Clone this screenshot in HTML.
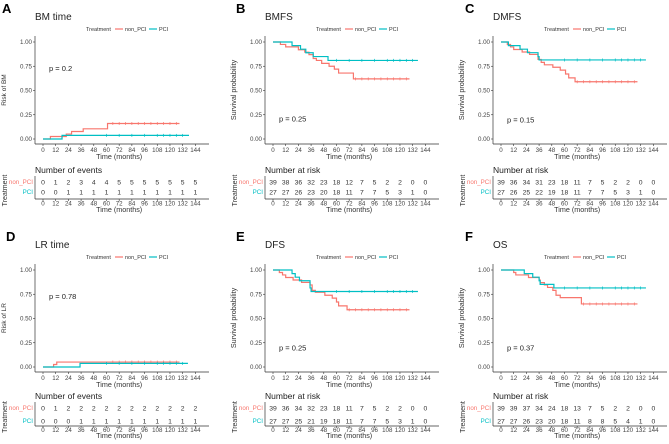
<!DOCTYPE html>
<html><head><meta charset="utf-8"><style>
body{margin:0;background:#fff}
svg{display:block;font-family:"Liberation Sans",sans-serif}
</style></head><body>
<svg id="fig" width="669" height="444" viewBox="0 0 669 444" xmlns="http://www.w3.org/2000/svg"></svg>
<script>
const RED='#F8766D', TEAL='#00BFC4';
const xTicks=[0,12,24,36,48,60,72,84,96,108,120,132,144];
const yTicks=[0,0.25,0.5,0.75,1];
const yTickLabels=['0.00','0.25','0.50','0.75','1.00'];
// panel A
const aNon=[[0,0],[7,0.026],[22,0.051],[27,0.077],[38,0.105],[61,0.16]], aNonEnd=129;
const aPci=[[0,0],[18,0.037]], aPciEnd=138;
const aTabNon=[0,1,2,3,4,4,5,5,5,5,5,5,5], aTabPci=[0,0,1,1,1,1,1,1,1,1,1,1,1];
// panel B
const bNon=[[0,1],[7,0.975],[12,0.95],[24,0.92],[30,0.895],[34,0.87],[38,0.83],[41,0.81],[46,0.78],[53,0.75],[58,0.72],[62,0.68],[76,0.62]], bNonEnd=129;
const bPci=[[0,1],[18,0.963],[26,0.926],[31,0.889],[38,0.85],[52,0.81]], bPciEnd=137;
const bTabNon=[39,38,36,32,23,18,12,7,5,2,2,0,0], bTabPci=[27,27,26,23,20,18,11,7,7,5,3,1,0];
// panel C
const cNon=[[0,1],[6,0.974],[9,0.949],[12,0.923],[20,0.897],[27,0.872],[35,0.82],[38,0.79],[41,0.765],[49,0.74],[56,0.71],[61,0.67],[64,0.63],[70,0.59]], cNonEnd=129;
const cPci=[[0,1],[7,0.963],[18,0.926],[25,0.89],[35,0.85],[36,0.815]], cPciEnd=137;
const cTabNon=[39,36,34,31,23,18,11,7,5,2,2,0,0], cTabPci=[27,26,25,22,19,18,11,7,7,5,3,1,0];
// panel D
const dNon=[[0,0],[10,0.026],[13,0.051]], dNonEnd=129;
const dPci=[[0,0],[35,0.037]], dPciEnd=137;
const dTabNon=[0,1,2,2,2,2,2,2,2,2,2,2,2], dTabPci=[0,0,0,1,1,1,1,1,1,1,1,1,1];
// panel E
const eNon=[[0,1],[6,0.974],[9,0.949],[12,0.923],[19,0.897],[27,0.872],[35,0.846],[37,0.79],[40,0.77],[49,0.74],[56,0.71],[60,0.67],[62,0.63],[70,0.59]], eNonEnd=129;
const ePci=[[0,1],[18,0.963],[21,0.926],[25,0.889],[35,0.815],[36,0.778]], ePciEnd=137;
const eTabNon=[39,36,34,32,23,18,11,7,5,2,2,0,0], eTabPci=[27,27,25,21,19,18,11,7,7,5,3,1,0];
// panel F
const fNon=[[0,1],[12,0.974],[14,0.949],[26,0.923],[36,0.897],[37,0.87],[41,0.846],[44,0.82],[49,0.79],[52,0.74],[56,0.715],[76,0.65]], fNonEnd=129;
const fPci=[[0,1],[22,0.963],[30,0.926],[36,0.889],[37,0.852],[50,0.815]], fPciEnd=137;
const fTabNon=[39,39,37,34,24,18,13,7,5,2,2,0,0], fTabPci=[27,27,26,23,20,18,11,8,8,5,4,1,0];
const censorNon=[66,72,78,84,90,96,102,108,114,120,126];
const censorPci=[60,72,84,96,108,114,120,126,132];

const svg=document.getElementById('fig');
const NS='http://www.w3.org/2000/svg';
function el(tag,attrs,parent,text){const e=document.createElementNS(NS,tag);for(const k in attrs)e.setAttribute(k,attrs[k]);if(text!==undefined)e.textContent=text;(parent||svg).appendChild(e);return e;}

function panel(p){
  const g=el('g',{});
  
  
  const oy=p.oy, x0=p.x0, k=1.058;
  const X=t=>x0+t*k, Y=v=>oy+139-v*97;
  const L=x0-8, R=x0+166;
  const t1=el('text',{x:p.letterX,y:oy+13,'font-size':13,'font-weight':'bold',fill:'#000'},g,p.letter);
  
  
  const t2=el('text',{x:x0-8,y:oy+20,'font-size':10,fill:'#222'},g,p.title);
  
  
  const lg=el('g',{'font-size':5.5,fill:'#333'},g);
  
  
  const lx=x0+43;
  el('text',{x:lx,y:oy+31},lg,'Treatment');
  el('line',{x1:lx+29,x2:lx+37,y1:oy+29,y2:oy+29,stroke:RED,'stroke-width':1.2},lg);
  el('text',{x:lx+39,y:oy+31},lg,'non_PCI');
  el('line',{x1:lx+63,x2:lx+71,y1:oy+29,y2:oy+29,stroke:TEAL,'stroke-width':1.2},lg);
  el('text',{x:lx+73,y:oy+31},lg,'PCI');
  el('line',{x1:L,x2:L,y1:oy+36,y2:oy+144,stroke:'#333','stroke-width':0.7},g);
  el('line',{x1:L,x2:R,y1:oy+144,y2:oy+144,stroke:'#333','stroke-width':0.7},g);
  yTicks.forEach((v,i)=>{
    el('line',{x1:L-2,x2:L,y1:Y(v),y2:Y(v),stroke:'#333','stroke-width':0.6},g);
    el('text',{x:L-3,y:Y(v)+2,'font-size':6.2,fill:'#444','text-anchor':'end'},g,yTickLabels[i]);
  });
  xTicks.forEach(t=>{
    el('line',{x1:X(t),x2:X(t),y1:oy+144,y2:oy+146,stroke:'#333','stroke-width':0.6},g);
    el('text',{x:X(t),y:oy+152,'font-size':6.2,fill:'#444','text-anchor':'middle'},g,t);
  });
  el('text',{x:(x0+X(144))/2,y:oy+159,'font-size':7.2,fill:'#333','text-anchor':'middle'},g,'Time (months)');
  const yt=el('text',{x:0,y:0,'font-size':p.ylab.length>12?7.2:6.5,fill:'#333','text-anchor':'middle',transform:`translate(${x0-37},${oy+90}) rotate(-90)`},g,p.ylab);
  
  
  el('text',{x:x0+6,y:Y(p.pv)+2,'font-size':7.5,fill:'#222'},g,p.ptxt);
  function curve(pts,end,col,cens,name){
    let d=`M${X(pts[0][0])},${Y(pts[0][1])}`;
    for(let i=1;i<pts.length;i++){d+=`H${X(pts[i][0])}V${Y(pts[i][1])}`;}
    d+=`H${X(end)}`;
    const c=el('path',{d:d,fill:'none',stroke:col,'stroke-width':1.2},g);
    
    
    const last=pts[pts.length-1][1];
    cens.forEach(t=>{if(t<=end&&t>pts[pts.length-1][0])el('line',{x1:X(t),x2:X(t),y1:Y(last)-1.5,y2:Y(last)+1.5,stroke:col,'stroke-width':0.7},g);});
  }
  curve(p.non,p.nonEnd,RED,censorNon,'curve-non-pci');
  curve(p.pci,p.pciEnd,TEAL,censorPci,'curve-pci');
  const tb=el('g',{},g);
  
  
  const r1=oy+p.row1, r2=oy+p.row2, ax=oy+p.tax;
  el('text',{x:x0-8,y:oy+p.row1-9,'font-size':8.5,fill:'#222'},tb,p.tabTitle);
  el('line',{x1:L,x2:L,y1:r1-6,y2:ax,stroke:'#333','stroke-width':0.7},tb);
  el('line',{x1:L,x2:R,y1:ax,y2:ax,stroke:'#333','stroke-width':0.7},tb);
  el('text',{x:L-2,y:r1+2,'font-size':6.2,fill:RED,'text-anchor':'end'},tb,'non_PCI');
  el('text',{x:L-2,y:r2+2,'font-size':6.2,fill:TEAL,'text-anchor':'end'},tb,'PCI');
  el('text',{x:0,y:0,'font-size':7,fill:'#333','text-anchor':'middle',transform:`translate(${x0-36},${(r1+ax)/2}) rotate(-90)`},tb,'Treatment');
  xTicks.forEach((t,i)=>{
    el('text',{x:X(t),y:r1+2.5,'font-size':6.8,fill:'#333','text-anchor':'middle'},tb,p.tNon[i]);
    el('text',{x:X(t),y:r2+2.5,'font-size':6.8,fill:'#333','text-anchor':'middle'},tb,p.tPci[i]);
    el('line',{x1:X(t),x2:X(t),y1:ax,y2:ax+2,stroke:'#333','stroke-width':0.6},tb);
    el('text',{x:X(t),y:ax+p.tl,'font-size':6.2,fill:'#444','text-anchor':'middle'},tb,t);
  });
  el('text',{x:(x0+X(144))/2,y:ax+p.tt,'font-size':7.2,fill:'#333','text-anchor':'middle'},tb,'Time (months)');
}
const topRow={row1:182,row2:192,tax:199,tl:6.5,tt:13}, botRow={row1:180,row2:193,tax:198,tl:6,tt:12};
panel(Object.assign({letter:'A',letterX:2,oy:0,x0:43,title:'BM  time',ylab:'Risk of BM',pv:0.72,ptxt:'p = 0.2',non:aNon,nonEnd:aNonEnd,pci:aPci,pciEnd:aPciEnd,tNon:aTabNon,tPci:aTabPci,tabTitle:'Number of events'},topRow));
panel(Object.assign({letter:'B',letterX:236,oy:0,x0:273,title:'BMFS',ylab:'Survival probability',pv:0.2,ptxt:'p = 0.25',non:bNon,nonEnd:bNonEnd,pci:bPci,pciEnd:bPciEnd,tNon:bTabNon,tPci:bTabPci,tabTitle:'Number at risk'},topRow));
panel(Object.assign({letter:'C',letterX:465,oy:0,x0:501,title:'DMFS',ylab:'Survival probability',pv:0.19,ptxt:'p = 0.15',non:cNon,nonEnd:cNonEnd,pci:cPci,pciEnd:cPciEnd,tNon:cTabNon,tPci:cTabPci,tabTitle:'Number at risk'},topRow));
panel(Object.assign({letter:'D',letterX:6,oy:228,x0:43,title:'LR  time',ylab:'Risk of LR',pv:0.72,ptxt:'p = 0.78',non:dNon,nonEnd:dNonEnd,pci:dPci,pciEnd:dPciEnd,tNon:dTabNon,tPci:dTabPci,tabTitle:'Number of events'},botRow));
panel(Object.assign({letter:'E',letterX:236,oy:228,x0:273,title:'DFS',ylab:'Survival probability',pv:0.19,ptxt:'p = 0.25',non:eNon,nonEnd:eNonEnd,pci:ePci,pciEnd:ePciEnd,tNon:eTabNon,tPci:eTabPci,tabTitle:'Number at risk'},botRow));
panel(Object.assign({letter:'F',letterX:465,oy:228,x0:501,title:'OS',ylab:'Survival probability',pv:0.19,ptxt:'p = 0.37',non:fNon,nonEnd:fNonEnd,pci:fPci,pciEnd:fPciEnd,tNon:fTabNon,tPci:fTabPci,tabTitle:'Number at risk'},botRow));
</script>
</body></html>
